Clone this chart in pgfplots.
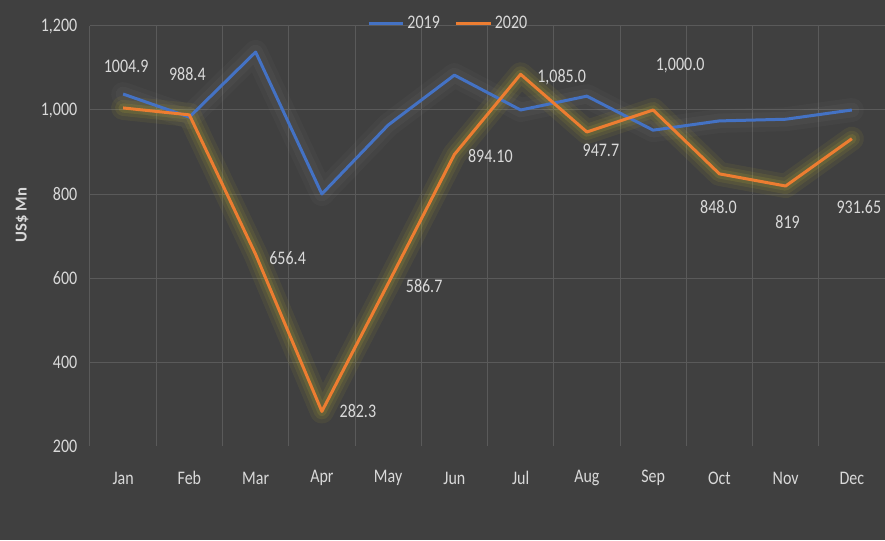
\documentclass[border=0pt]{standalone}
\usepackage{fontspec}
\setmainfont{Carlito}
\usepackage{pgfplots}
\pgfplotsset{compat=1.18}
\usepackage{pgfplotstable}

\definecolor{bgc}{HTML}{404040}
\definecolor{gridc}{HTML}{5A5A5A}
\definecolor{txt}{HTML}{D9D9D9}
\definecolor{blue19}{HTML}{4472C4}
\definecolor{orange20}{HTML}{ED7D31}
\definecolor{glowy}{HTML}{D8C830}

% 2019 values
\pgfplotstableread{
x y
0 1038
1 983
2 1138
3 800
4 964
5 1083
6 1000
7 1033
8 952
9 974
10 978
11 1000
}\dataA

% 2020 values with their labels
\pgfplotstableread{
x y label
0 1004.9 1004.9
1 988.4 988.4
2 656.4 656.4
3 282.3 282.3
4 586.7 586.7
5 894.1 894.10
6 1085.0 {1,085.0}
7 947.7 947.7
8 1000.0 {1,000.0}
9 848.0 848.0
10 819 819
11 931.65 931.65
}\dataB

% label offsets in px, one per month
\def\dxlist{{3,-2,32,36,36,36,41,14,27,-1,2,7}}
\def\dylist{{35,34,-3,0,-2,-1,-2,-15,37,-28,-30,-57}}

\pgfplotsset{
    glowA/.style={forget plot, white, line join=round, line cap=round},
    glowB/.style={forget plot, glowy, line join=round, line cap=round},
}

\begin{document}
\begin{tikzpicture}
\fill[bgc] (-67.5pt,-70.5pt) rectangle (596.25pt,334.5pt);
\begin{axis}[
    at={(0,0)}, anchor=south west,
    scale only axis,
    width=596.25pt, height=315pt,
    xmin=-0.5, xmax=11.5,
    ymin=200, ymax=1200,
    axis line style={draw=none},
    major tick length=0pt, minor tick length=0pt,
    xtick={0,...,11},
    xticklabels={Jan,Feb,Mar,Apr,May,Jun,Jul,Aug,Sep,Oct,Nov,Dec},
    minor xtick={-0.5,0.5,...,11.5},
    xminorgrids,
    minor grid style={gridc, line width=0.75pt},
    ytick={400,600,...,1200},
    ymajorgrids,
    major grid style={gridc, line width=0.75pt},
    extra y ticks={200},
    extra y tick style={grid=none},
    /pgf/number format/.cd, 1000 sep={,}, assume math mode=true,
    /pgfplots/.cd,
    tick label style={font=\fontsize{12}{14}\selectfont, text=txt, yscale=1.2},
    xticklabel style={anchor=center, yshift=-20pt},
    yticklabel style={anchor=east, xshift=-6pt},
    ylabel={\textbf{US\$ Mn}},
    ylabel style={at={(axis description cs:-0.0855,0.55)}, anchor=center,
        rotate=0, font=\fontsize{12.5}{14}\selectfont, text=txt},
    legend columns=2,
    legend style={at={(axis description cs:0.451,1.007)}, anchor=center,
        draw=none, fill=none, text=txt,
        font=\fontsize{12}{14}\selectfont,
        nodes={yscale=1.2},
        /tikz/every even column/.append style={column sep=9pt}},
    legend image code/.code={\draw[#1] (0pt,0pt) -- (26pt,0pt);},
]
% soft glows, stacked
\addplot[glowA, opacity=0.025, line width=18pt] table[x=x, y=y] {\dataA};
\addplot[glowA, opacity=0.03, line width=11pt] table[x=x, y=y] {\dataA};
\addplot[glowB, opacity=0.07, line width=18pt] table[x=x, y=y] {\dataB};
\addplot[glowB, opacity=0.09, line width=12pt] table[x=x, y=y] {\dataB};
\addplot[glowB, opacity=0.12, line width=7pt] table[x=x, y=y] {\dataB};
% lines
\addplot[blue19, line width=2.25pt, line join=round] table[x=x, y=y] {\dataA};
\addlegendentry{2019}
\addplot[orange20, line width=2.25pt, line join=round,
    point meta=explicit symbolic,
    visualization depends on={value \coordindex \as \idx},
    nodes near coords,
    nodes near coords style={anchor=center, text=txt,
        font=\fontsize{12}{14}\selectfont, yscale=1.2,
        xshift={\dxlist[\idx]*0.75pt}, yshift={\dylist[\idx]*0.75pt}},
] table[x=x, y=y, meta=label] {\dataB};
\addlegendentry{2020}
\end{axis}
\pgfresetboundingbox
\path[use as bounding box] (-67.5pt,-70.5pt) rectangle (596.25pt,334.5pt);
\end{tikzpicture}
\end{document}
